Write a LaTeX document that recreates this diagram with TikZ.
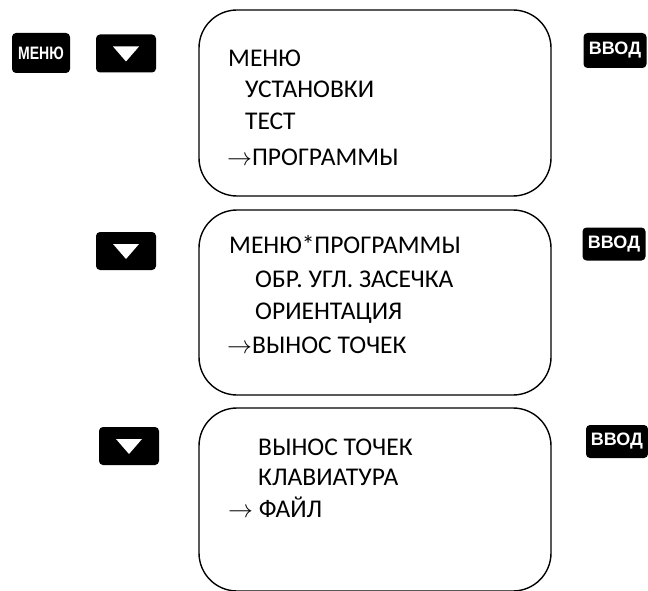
\documentclass[tikz,border=0pt]{standalone}
\usepackage{fontspec}
\setmainfont{Carlito}
\newfontfamily\keyfont{Liberation Sans}
\begin{document}
\begin{tikzpicture}[x=1pt,y=-1pt,
  screen/.style={draw, line width=1.4pt, rounded corners=38pt,
    minimum width=352pt, inner sep=0pt},
  line/.style={anchor=base west, inner sep=0pt, font=\fontsize{25.5}{29}\selectfont},
  keybox/.style={fill=black, rounded corners=4pt, inner sep=0pt},
  keylabel/.style={keybox, text=white, font=\keyfont\bfseries\fontsize{18}{20}\selectfont}
]
\useasboundingbox (0,0) rectangle (648,591);

% display screens
\node[screen, minimum height=186pt] (s1) at (375,103) {};
\node[screen, minimum height=185pt] (s2) at (375,302.5) {};
\node[screen, minimum height=183pt] (s3) at (375,499.5) {};

% screen 1
\node[line] (a1) at (228,67) {МЕНЮ};
\node[line] (a2) at (245,98) {УСТАНОВКИ};
\node[line] (a3) at (245,130) {ТЕСТ};
\node[line] (a4) at (227,166) {$\rightarrow$ПРОГРАММЫ};

% screen 2
\node[line] (b1) at (229,253) {МЕНЮ*ПРОГРАММЫ};
\node[line] (b2) at (255,287) {ОБР. УГЛ. ЗАСЕЧКА};
\node[line] (b3) at (255,319) {ОРИЕНТАЦИЯ};
\node[line] (b4) at (227,353) {$\rightarrow$ВЫНОС ТОЧЕК};

% screen 3
\node[line] (c1) at (258,455) {ВЫНОС ТОЧЕК};
\node[line] (c2) at (258,485) {КЛАВИАТУРА};
\node[line] (c3) at (228,517) {$\rightarrow$ ФАЙЛ};

% keys
\node[keylabel, minimum width=58pt, minimum height=40pt] (menu) at (41,53)
  {\scalebox{0.78}[1]{МЕНЮ}};
\foreach \n/\x/\y in {d1/126/53.5, d2/126/251, d3/129/446}{
  \node[keybox, minimum width=60pt, minimum height=38pt] (\n) at (\x,\y) {};
  \fill[white] (\n.center) ++(-13,-7) -- ++(26,0) -- ++(-13,15) -- cycle;
}
\node[keylabel, minimum width=63pt, minimum height=35pt] (e1) at (615,50.5)
  {\scalebox{1.0}[1]{ВВОД}};
\node[keylabel, minimum width=63pt, minimum height=33pt] (e2) at (614,244)
  {\scalebox{1.0}[1]{ВВОД}};
\node[keylabel, minimum width=62pt, minimum height=33pt] (e3) at (617,441.5)
  {\scalebox{1.0}[1]{ВВОД}};
\end{tikzpicture}
\end{document}
